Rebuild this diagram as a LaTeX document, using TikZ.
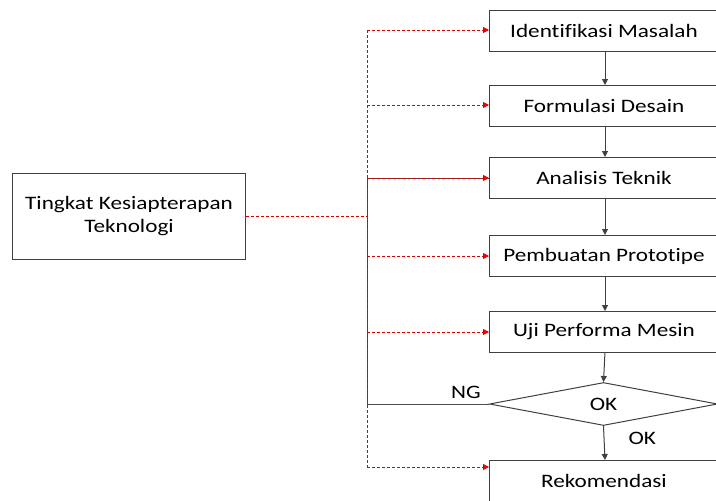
\documentclass[tikz,border=0pt]{standalone}
\usepackage{fontspec}
\setmainfont[FakeStretch=1.22,Ligatures=NoCommon]{Carlito}
\usetikzlibrary{arrows.meta,shapes.geometric}
\begin{document}
\begin{tikzpicture}[x=1pt,y=-1pt,
  box/.style={draw=black!75,line width=1pt,minimum width=229pt,minimum height=41pt,inner sep=0pt,anchor=north west,font=\fontsize{19}{22}\selectfont},
  flow/.style={draw=black!75,line width=1pt,-{Triangle[length=6pt,width=6pt]}},
  red/.style={draw=red!85!black,dashed,dash pattern=on 3pt off 2pt,line width=0.8pt},
  redarr/.style={red,-{Triangle[length=6pt,width=6pt,fill=red]}},
  lbl/.style={font=\fontsize{19}{23}\selectfont}]
\useasboundingbox (0,0) rectangle (716,501);
\begin{scope}
\clip (0,0) rectangle (716,501);
\node[box] (b1) at (489,10) {Identifikasi Masalah};
\node[box] (b2) at (489,85) {Formulasi Desain};
\node[box] (b3) at (489,157) {Analisis Teknik};
\node[box] (b4) at (489,235) {Pembuatan Prototipe};
\node[box] (b5) at (489,311) {Uji Performa Mesin};
\node[draw=black!75,line width=1pt,diamond,aspect=5.4,minimum width=228pt,minimum height=43pt,inner sep=0pt,lbl] (d) at (603.5,404) {OK};
\node[box] (b6) at (489,460) {Rekomendasi};
\end{scope}
\node[draw=black!75,line width=1pt,minimum width=233pt,minimum height=86pt,anchor=north west,align=center,lbl,inner sep=0pt] (t) at (12,173) {Tingkat Kesiapterapan\\Teknologi};
\coordinate (j) at (367,216);
\coordinate (top) at (367,30);
\coordinate (bot) at (367,467);
\coordinate (ng) at (367,404);
\coordinate (an) at (367,178);
% black flow
\draw[flow] (605,51) -- (605,85);
\draw[flow] (605,126) -- (605,157);
\draw[flow] (605,198) -- (605,235);
\draw[flow] (605,276) -- (605,311);
\draw[flow] (605,352) -- (d.north);
\draw[flow] (d.south) -- (605,460);
\draw[draw=black!70,line width=1pt] (d.west) -- (ng) -- (an) -- (b3.west);
\node[lbl,anchor=south] at (466,402) {NG};
\node[lbl,anchor=west] at (625,438) {OK};
% red links
\draw[red] (t.east |- j) -- (j);
\draw[red] (top) -- (bot);
\draw[redarr] (top) -- (b1.west |- top);
\draw[redarr] (367,105) -- (b2.west |- 367,105);
\draw[redarr] (an) -- (b3.west);
\draw[redarr] (367,256) -- (b4.west |- 367,256);
\draw[redarr] (367,332) -- (b5.west |- 367,332);
\draw[redarr] (bot) -- (b6.west |- bot);
\end{tikzpicture}
\end{document}
